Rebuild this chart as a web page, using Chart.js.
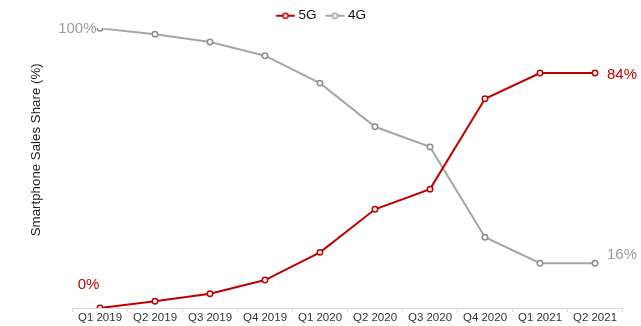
<!DOCTYPE html>
<html>
<head>
<meta charset="utf-8">
<title>Smartphone Sales Share</title>
<script src="https://cdn.jsdelivr.net/npm/chart.js@4/dist/chart.umd.min.js"></script>
<style>
  body { margin: 0; background: #fff; }
  #wrap { width: 641px; height: 326px; position: relative; }
</style>
</head>
<body>
<div id="wrap"><canvas id="shareChart"></canvas></div>
<script>
const quarters = ["Q1 2019", "Q2 2019", "Q3 2019", "Q4 2019", "Q1 2020", "Q2 2020", "Q3 2020", "Q4 2020", "Q1 2021", "Q2 2021"];
const share5G = [0, 2.4, 5.1, 10, 19.9, 35.3, 42.5, 74.8, 84, 84];
const share4G = [100, 97.9, 95.1, 90.2, 80.4, 64.8, 57.6, 25.3, 16, 16];

const RED = "#c00000";
const GREY = "#a6a6a6";
const FONT = "'Liberation Sans', Arial, sans-serif";

// small line + circle marker used as legend symbol
function legendMark(color) {
  const c = document.createElement("canvas");
  c.width = 23;
  c.height = 10;
  const g = c.getContext("2d");
  g.strokeStyle = color;
  g.lineWidth = 2;
  g.beginPath();
  g.moveTo(3.6, 5);
  g.lineTo(22.6, 5);
  g.stroke();
  g.beginPath();
  g.arc(13.1, 5, 2.6, 0, Math.PI * 2);
  g.fillStyle = "#fff";
  g.fill();
  g.lineWidth = 1.5;
  g.stroke();
  return c;
}
const legendMarks = [legendMark(RED), legendMark(GREY)];

// end labels: which point, where the text sits relative to it
const endLabels = [
  { ds: 1, i: 0, dx: -3.5, dy: 0.5, align: "right", color: "#9c9c9c" },
  { ds: 0, i: 0, dx: -11.5, dy: -23, align: "center", color: RED },
  { ds: 0, i: 9, dx: 12, dy: 2, align: "left", color: RED },
  { ds: 1, i: 9, dx: 12, dy: -8, align: "left", color: "#9c9c9c" },
];

const endLabelPlugin = {
  id: "endLabels",
  afterDatasetsDraw(chart) {
    const ctx = chart.ctx;
    ctx.save();
    ctx.font = "15px " + FONT;
    ctx.textBaseline = "middle";
    endLabels.forEach((l) => {
      const pt = chart.getDatasetMeta(l.ds).data[l.i];
      const value = chart.data.datasets[l.ds].data[l.i];
      ctx.fillStyle = l.color;
      ctx.textAlign = l.align;
      ctx.fillText(Math.round(value) + "%", pt.x + l.dx, pt.y + l.dy);
    });
    ctx.restore();
  },
};

// y title drawn by hand so it can sit a bit above the axis middle
const yTitlePlugin = {
  id: "yTitle",
  afterDraw(chart) {
    const ctx = chart.ctx;
    ctx.save();
    ctx.translate(36.5, 149.8);
    ctx.rotate(-Math.PI / 2);
    ctx.font = "13.3px " + FONT;
    ctx.fillStyle = "#222";
    ctx.textAlign = "center";
    ctx.textBaseline = "middle";
    ctx.fillText("Smartphone Sales Share (%)", 0, 0);
    ctx.restore();
  },
};

// pull the plot up under the legend
const legendTrim = {
  id: "legendTrim",
  beforeInit(chart) {
    const fit = chart.legend.fit;
    chart.legend.fit = function () {
      fit.call(this);
      this.height -= 4.2;
    };
  },
};

const ctx = document.getElementById("shareChart").getContext("2d");
new Chart(ctx, {
  type: "line",
  data: {
    labels: quarters,
    datasets: [
      {
        label: "5G",
        data: share5G,
        borderColor: RED,
        borderWidth: 2,
        pointRadius: 2.7,
        pointBorderWidth: 1.5,
        pointBackgroundColor: "#fff",
        pointBorderColor: RED,
        tension: 0,
      },
      {
        label: "4G",
        data: share4G,
        borderColor: GREY,
        borderWidth: 2,
        pointRadius: 2.7,
        pointBorderWidth: 1.5,
        pointBackgroundColor: "#fff",
        pointBorderColor: "#8c8c8c",
        tension: 0,
      },
    ],
  },
  options: {
    responsive: true,
    maintainAspectRatio: false,
    animation: false,
    layout: { padding: { left: 19.5, right: 18.5, top: 0, bottom: 2.5 } },
    plugins: {
      legend: {
        position: "top",
        labels: {
          usePointStyle: true,
          pointStyleWidth: 15.75,
          padding: 9,
          color: "#111",
          font: { family: FONT, size: 13.5 },
          generateLabels(chart) {
            const items = Chart.defaults.plugins.legend.labels.generateLabels(chart);
            items.forEach((item, i) => {
              item.pointStyle = legendMarks[i];
            });
            return items;
          },
        },
      },
      tooltip: { enabled: false },
    },
    scales: {
      x: {
        offset: true,
        grid: {
          offset: true,
          drawOnChartArea: false,
          drawTicks: true,
          tickLength: 4,
          color: "#d9d9d9",
        },
        border: { color: "#d9d9d9" },
        ticks: {
          padding: 0,
          color: "#333",
          font: { family: FONT, size: 11.5, lineHeight: 1 },
          maxRotation: 0,
        },
      },
      y: {
        min: 0,
        max: 100,
        grid: { display: false },
        border: { display: false },
        ticks: { display: false },
        afterFit(scale) {
          scale.width = 53;
        },
      },
    },
  },
  plugins: [endLabelPlugin, yTitlePlugin, legendTrim],
});
</script>
</body>
</html>
